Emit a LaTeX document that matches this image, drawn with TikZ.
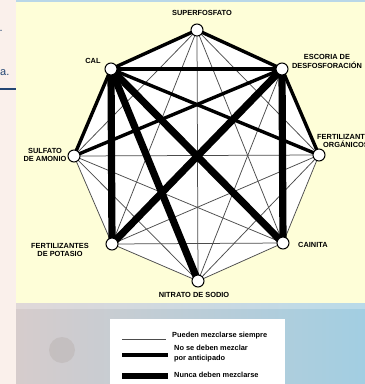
\documentclass[tikz,border=0pt]{standalone}
\usepackage{fontspec}
\setmainfont{Liberation Sans}
\pgfdeclarelayer{bg}
\pgfdeclarelayer{edges}
\pgfsetlayers{bg,edges,main}
\definecolor{panel}{RGB}{254,254,216}
\definecolor{strip}{RGB}{250,240,235}
\definecolor{navy}{RGB}{35,70,115}
\definecolor{topline}{RGB}{185,215,232}
\definecolor{bgl}{RGB}{214,204,204}
\definecolor{bgr}{RGB}{162,206,226}
\definecolor{spot}{RGB}{192,186,186}
\begin{document}
\begin{tikzpicture}[x=1pt,y=-1pt,
  nd/.style={circle, draw=black, fill=white, line width=1pt, minimum size=12pt, inner sep=0pt},
  lbl/.style={font=\fontsize{7.4}{8.2}\selectfont\bfseries, align=center, inner sep=0pt, text=black},
  thinE/.style={draw=black!70, line width=0.75pt},
  medE/.style={draw=black, line width=3.4pt},
  thickE/.style={draw=black, line width=7.2pt},
  legtxt/.style={font=\fontsize{7.4}{10}\selectfont\bfseries, align=left, anchor=west, inner sep=0pt, text=black}]
\useasboundingbox (0,0) rectangle (365,384);
% backgrounds
\begin{pgfonlayer}{bg}
\fill[strip] (0,0) rectangle (16,384);
\fill[panel] (16,0) rectangle (365,303);
\fill[topline] (16,0) rectangle (365,1.5);
\shade[left color=bgl, right color=bgr] (16,303) rectangle (365,384);
\fill[spot, opacity=0.7] (62,350) circle (13);
\fill[white, opacity=0.25] (16,303) rectangle (365,309);
\draw[navy, line width=1.4pt] (0,89) -- (16,89);
\end{pgfonlayer}
\node[anchor=base west, inner sep=0pt, text=navy, font=\fontsize{11}{12}\selectfont] (fr1) at (-0.5,31) {.};
\node[anchor=base west, inner sep=0pt, text=navy, font=\fontsize{11}{12}\selectfont] (fr2) at (0,75) {a.};
% nodes
\node[nd] (su) at (197,30) {};
\node[nd] (ca) at (111,69) {};
\node[nd] (es) at (282,69) {};
\node[nd] (fo) at (319,155) {};
\node[nd] (ci) at (283,243) {};
\node[nd] (ni) at (198,281) {};
\node[nd] (po) at (112,244) {};
\node[nd] (sa) at (74,156) {};
% labels
\node[lbl] (lsu) at (202,13) {SUPERFOSFATO};
\node[lbl] (lca) at (93,61) {CAL};
\node[lbl] (les) at (327,61.5) {ESCORIA DE\\DESFOSFORACIÓN};
\node[lbl] (lfo) at (346,141) {FERTILIZANTES\\ORGÁNICOS};
\node[lbl] (lsa) at (45,155) {SULFATO\\DE AMONIO};
\node[lbl] (lpo) at (60,250) {FERTILIZANTES\\DE POTASIO};
\node[lbl, anchor=west] (lci) at (298,245) {CAINITA};
\node[lbl] (lni) at (194,295) {NITRATO DE SODIO};
% edges
\begin{pgfonlayer}{edges}
\fill[white] (su.center) -- (es.center) -- (fo.center) -- (ci.center) -- (ni.center) -- (po.center) -- (sa.center) -- (ca.center) -- cycle;
\foreach \a/\b in {su/sa,su/fo,su/po,su/ci,su/ni,es/ni,fo/sa,fo/po,fo/ci,fo/ni,ci/po,ci/ni,ci/sa,ni/po,ni/sa,po/sa}
  \draw[thinE] (\a.center) -- (\b.center);
\foreach \a/\b in {su/ca,su/es,ca/es,ca/fo,ca/sa,es/sa,es/fo}
  \draw[medE] (\a.center) -- (\b.center);
\foreach \a/\b in {ca/po,ca/ni,ca/ci,es/ci,es/po}
  \draw[thickE] (\a.center) -- (\b.center);
\end{pgfonlayer}
% legend
\fill[white] (110,319) rectangle (285,384);
\draw[black!70, line width=0.75pt] (122,339) -- (166,339);
\draw[black, line width=3.4pt] (122,355) -- (168,355);
\draw[black, line width=6.5pt] (122,376) -- (168,376);
\node[legtxt] (t1) at (172,336) {Pueden mezclarse siempre};
\node[legtxt] (t2) at (174,354) {No se deben mezclar\\por anticipado};
\node[legtxt] (t3) at (174,375) {Nunca deben mezclarse};
\end{tikzpicture}
\end{document}
